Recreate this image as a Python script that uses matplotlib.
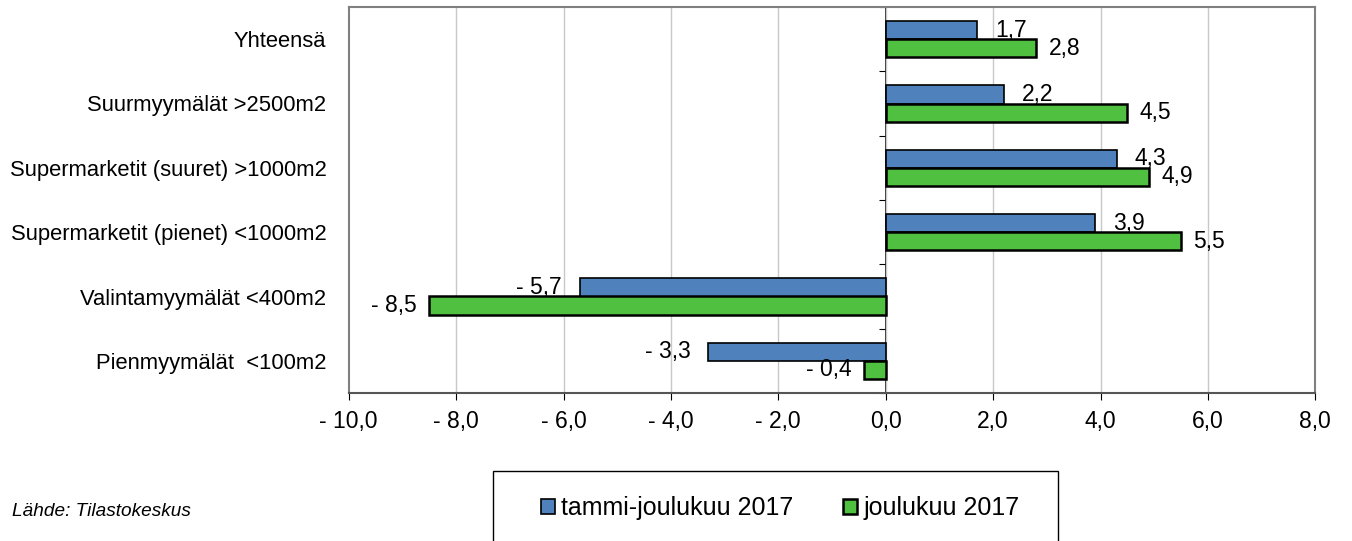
import numpy as np
import matplotlib
matplotlib.use('Agg')
import matplotlib.pyplot as plt
from matplotlib.patches import Patch, Rectangle

plt.rcParams['font.family'] = ['Liberation Sans', 'DejaVu Sans']

# data
categories = ['Yhteensä', 'Suurmyymälät >2500m2', 'Supermarketit (suuret) >1000m2',
              'Supermarketit (pienet) <1000m2', 'Valintamyymälät <400m2', 'Pienmyymälät  <100m2']
tammi_joulu = [1.7, 2.2, 4.3, 3.9, -5.7, -3.3]
joulu = [2.8, 4.5, 4.9, 5.5, -8.5, -0.4]
series_names = ['tammi-joulukuu 2017', 'joulukuu 2017']
x_ticks = [-10, -8, -6, -4, -2, 0, 2, 4, 6, 8]

blue = '#4F81BD'
green = '#50C040'


def fmt(v):
    s = f"{abs(v):.1f}".replace('.', ',')
    return '- ' + s if v < 0 else s


fig = plt.figure(figsize=(13.52, 5.41), dpi=100)
ax = fig.add_axes([348.7 / 1352, 1 - 393 / 541, (1315.3 - 348.7) / 1352, (393 - 7) / 541])

y = np.arange(len(categories))
h = 0.28
b1 = ax.barh(y - h / 2, tammi_joulu, height=h, color=blue, edgecolor='black', linewidth=1.2, zorder=3)
b2 = ax.barh(y + h / 2, joulu, height=h, color=green, edgecolor='black', linewidth=1.8, zorder=3)

# arvojen tekstit
for bars, vals, dx in [(b1, tammi_joulu, 13), (b2, joulu, 9)]:
    for rect, v in zip(bars, vals):
        yc = rect.get_y() + rect.get_height() / 2
        off = dx if v >= 0 else -dx
        ax.annotate(fmt(v), (v, yc), xytext=(off, 0), textcoords='offset points',
                    ha='left' if v >= 0 else 'right', va='center', fontsize=16.5, zorder=4)

xmin, xmax = x_ticks[0], x_ticks[-1]
ax.set_xlim(xmin, xmax)
ax.set_ylim(len(categories) - 0.5, -0.5)
ax.set_xticks(x_ticks)
ax.set_xticklabels([fmt(t) for t in x_ticks], fontsize=16.5)
ax.set_yticks(y)
ax.set_yticklabels(categories, fontsize=15.8)
ax.tick_params(axis='y', length=0, pad=16)
ax.tick_params(axis='x', direction='out', length=5, pad=7, color='black')

for t in x_ticks[1:-1]:
    ax.axvline(t, color='#c8c8c8', linewidth=1, zorder=1)

for s in ax.spines.values():
    s.set_color('#808080')
    s.set_linewidth(1.5)
ax.spines['bottom'].set_color('#555555')

# nolla-akseli
zero_frac = (0 - xmin) / (xmax - xmin)
sec = ax.secondary_yaxis(zero_frac)
sec.set_alignment('left')
sec.set_yticks(np.arange(len(categories) + 1) - 0.5)
sec.set_yticklabels([])
sec.tick_params(direction='out', length=5, color='black')
sec.spines['left'].set_color('black')
sec.spines['left'].set_linewidth(1.2)

# selite
box = Rectangle((493 / 1352, -0.1), (1058 - 493) / 1352, 0.1 + (541 - 471) / 541,
                transform=fig.transFigure, fill=False, edgecolor='black', linewidth=1)
fig.add_artist(box)
handles = [Patch(facecolor=blue, edgecolor='black', linewidth=1.2),
           Patch(facecolor=green, edgecolor='black', linewidth=1.8)]
fig.legend(handles, series_names, loc='center', bbox_to_anchor=(780 / 1352, 1 - 508 / 541),
           ncol=2, frameon=False, fontsize=18, handlelength=0.56, handleheight=0.56,
           handletextpad=0.25, columnspacing=2.0)

fig.text(12 / 1352, 1 - 511 / 541, 'Lähde: Tilastokeskus', style='italic', fontsize=13.7, va='center')

plt.savefig('out.png', dpi=100)
